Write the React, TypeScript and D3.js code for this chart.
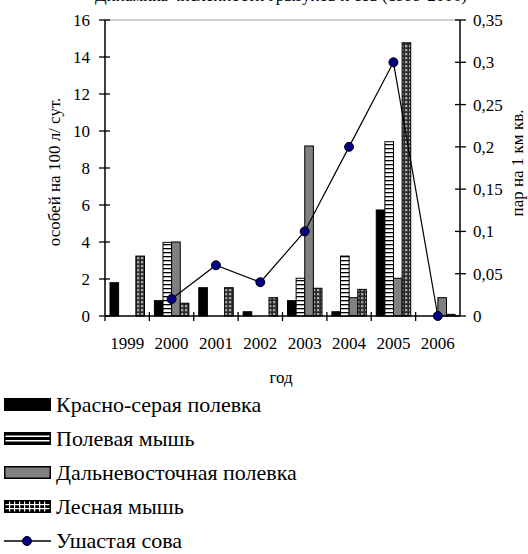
import React from "react";
import * as d3 from "d3";

const years = ["1999", "2000", "2001", "2002", "2003", "2004", "2005", "2006"];
const redGrayVole = [1.8, 0.83, 1.53, 0.23, 0.83, 0.23, 5.73, 0];
const fieldMouse = [0, 3.98, 0, 0, 2.04, 3.24, 9.42, 0];
const farEastVole = [0, 4.0, 0, 0, 9.19, 0.99, 2.04, 0.99];
const woodMouse = [3.24, 0.69, 1.53, 0.99, 1.5, 1.44, 14.77, 0.09];
const longEaredOwl: (number | null)[] = [null, 0.02, 0.06, 0.04, 0.1, 0.2, 0.3, 0];
const leftTicks = [0, 2, 4, 6, 8, 10, 12, 14, 16];
const rightTicks = [0, 0.05, 0.1, 0.15, 0.2, 0.25, 0.3, 0.35];
const seriesNames = ["Красно-серая полевка", "Полевая мышь", "Дальневосточная полевка", "Лесная мышь"];
const owlName = "Ушастая сова";
const titleText = "Динамика численности грызунов и сов (1999-2006)";
const leftLabel = "особей на 100 л/ сут.";
const rightLabel = "пар на 1 км кв.";
const xLabel = "год";

const FONT = '"Liberation Serif", "Times New Roman", serif';

export default function App() {
  const W = 528, H = 554;
  const left = 105, right = 460, top = 20, bottom = 316;
  const x = d3.scaleBand<string>().domain(years).range([left, right]).padding(0);
  const keys = ["a", "b", "c", "d"];
  const x1 = d3.scaleBand<string>().domain(keys).range([5, 39.5]).padding(0);
  const yL = d3.scaleLinear().domain([0, 16]).range([bottom, top]);
  const yR = d3.scaleLinear().domain([0, 0.35]).range([bottom, top]);
  const series = [redGrayVole, fieldMouse, farEastVole, woodMouse];
  const fills = ["#000000", "url(#stripes)", "#808080", "url(#check)"];
  const fmtR = (v: number) => String(+v.toFixed(2)).replace(".", ",");

  const line = d3
    .line<number | null>()
    .defined((d) => d != null)
    .x((_, i) => (x(years[i]) as number) + x.bandwidth() / 2)
    .y((d) => yR(d as number));

  const legendY = [412, 446, 480, 514, 548];

  return (
    <svg width={W} height={H} style={{ position: "absolute", left: 0, top: 0, background: "#fff", fontFamily: FONT }}>
      <defs>
        <pattern id="stripes" patternUnits="userSpaceOnUse" width={4} height={4}>
          <rect width={4} height={4} fill="#fff" />
          <rect width={4} height={1.3} fill="#000" />
        </pattern>
        <pattern id="check" patternUnits="userSpaceOnUse" width={4} height={4}>
          <rect width={4} height={4} fill="#2a2a2a" />
          <rect x={1} y={1} width={2.3} height={2.3} fill="#a5a5a5" />
        </pattern>
      </defs>
      <rect width={W} height={H} fill="#fff" />
      <text x={467} y={0.5} textAnchor="end" fontSize={17}>{titleText}</text>
      {/* top border */}
      <line x1={left} x2={right} y1={top} y2={top} stroke="#a0a0a0" strokeWidth={1} />
      {/* bars */}
      {series.map((vals, si) =>
        vals.map((v, i) =>
          v > 0 ? (
            <rect
              key={`${si}-${i}`}
              x={(x(years[i]) as number) + (x1(keys[si]) as number)}
              y={yL(v)}
              width={x1.bandwidth()}
              height={bottom - yL(v)}
              fill={fills[si]}
              stroke="#000"
              strokeWidth={1}
            />
          ) : null
        )
      )}
      {/* axes */}
      <line x1={left} x2={left} y1={top} y2={bottom} stroke="#000" strokeWidth={1.5} />
      <line x1={right} x2={right} y1={top} y2={bottom} stroke="#000" strokeWidth={1.5} />
      <line x1={left} x2={right} y1={bottom} y2={bottom} stroke="#000" strokeWidth={1.5} />
      {leftTicks.map((t) => (
        <g key={"l" + t}>
          <line x1={left - 6} x2={left + 5} y1={yL(t)} y2={yL(t)} stroke="#000" strokeWidth={1.3} />
          <text x={90} y={yL(t) + 6} textAnchor="end" fontSize={17}>{t}</text>
        </g>
      ))}
      {rightTicks.map((t) => (
        <g key={"r" + t}>
          <line x1={right - 5} x2={right + 6} y1={yR(t)} y2={yR(t)} stroke="#000" strokeWidth={1.3} />
          <text x={473} y={yR(t) + 6} textAnchor="start" fontSize={17}>{fmtR(t)}</text>
        </g>
      ))}
      {years.map((yr, i) => (
        <g key={"x" + yr}>
          {i > 0 && (
            <line x1={x(yr) as number} x2={x(yr) as number} y1={bottom - 4} y2={bottom + 5} stroke="#000" strokeWidth={1.3} />
          )}
          <text x={(x(yr) as number) + x.bandwidth() / 2} y={349} textAnchor="middle" fontSize={17}>{yr}</text>
        </g>
      ))}
      <line x1={left} x2={left} y1={bottom} y2={bottom + 5} stroke="#000" strokeWidth={1.3} />
      {/* owl line */}
      <path d={line(longEaredOwl) || ""} fill="none" stroke="#000" strokeWidth={1.2} />
      {longEaredOwl.map((v, i) =>
        v != null ? (
          <circle
            key={"o" + i}
            cx={(x(years[i]) as number) + x.bandwidth() / 2}
            cy={yR(v)}
            r={4.5}
            fill="#000080"
            stroke="#000"
            strokeWidth={1}
          />
        ) : null
      )}
      {/* axis titles */}
      <text transform={`translate(60,172) rotate(-90)`} textAnchor="middle" fontSize={17}>{leftLabel}</text>
      <text transform={`translate(523,163) rotate(-90)`} textAnchor="middle" fontSize={17}>{rightLabel}</text>
      <text x={281} y={383} textAnchor="middle" fontSize={17}>{xLabel}</text>
      {/* legend */}
      {seriesNames.map((name, si) => {
        const by = legendY[si];
        const sx = 4, sw = 47, sh = 13, sy = by - 14;
        return (
          <g key={"lg" + si}>
            {si === 0 && <rect x={sx} y={sy} width={sw} height={sh} fill="#000" />}
            {si === 1 && (
              <g>
                <rect x={sx} y={sy} width={sw} height={sh} fill="#000" />
                <rect x={sx + 1.5} y={sy + 3.5} width={sw - 3} height={1.5} fill="#fff" />
                <rect x={sx + 1.5} y={sy + 8} width={sw - 3} height={1.5} fill="#fff" />
              </g>
            )}
            {si === 2 && (
              <rect x={sx + 0.75} y={sy + 0.75} width={sw - 1.5} height={sh - 1.5} fill="#808080" stroke="#000" strokeWidth={1.5} />
            )}
            {si === 3 && (
              <g>
                <rect x={sx} y={sy} width={sw} height={sh} fill="#000" />
                {d3.range(sy + 4, sy + sh - 1, 4).map((yy) => (
                  <rect key={"h" + yy} x={sx + 1.5} y={yy} width={sw - 3} height={1.2} fill="#fff" />
                ))}
                {d3.range(sx + 5, sx + sw - 2, 5).map((xx) => (
                  <rect key={"v" + xx} x={xx} y={sy + 1.5} width={1.2} height={sh - 3} fill="#fff" />
                ))}
              </g>
            )}
            <text x={56} y={by} fontSize={22}>{name}</text>
          </g>
        );
      })}
      <g>
        <line x1={4} x2={51} y1={legendY[4] - 7} y2={legendY[4] - 7} stroke="#000" strokeWidth={1.5} />
        <circle cx={27} cy={legendY[4] - 7} r={4.5} fill="#000080" stroke="#000" strokeWidth={1} />
        <text x={56} y={legendY[4]} fontSize={22}>{owlName}</text>
      </g>
    </svg>
  );
}
